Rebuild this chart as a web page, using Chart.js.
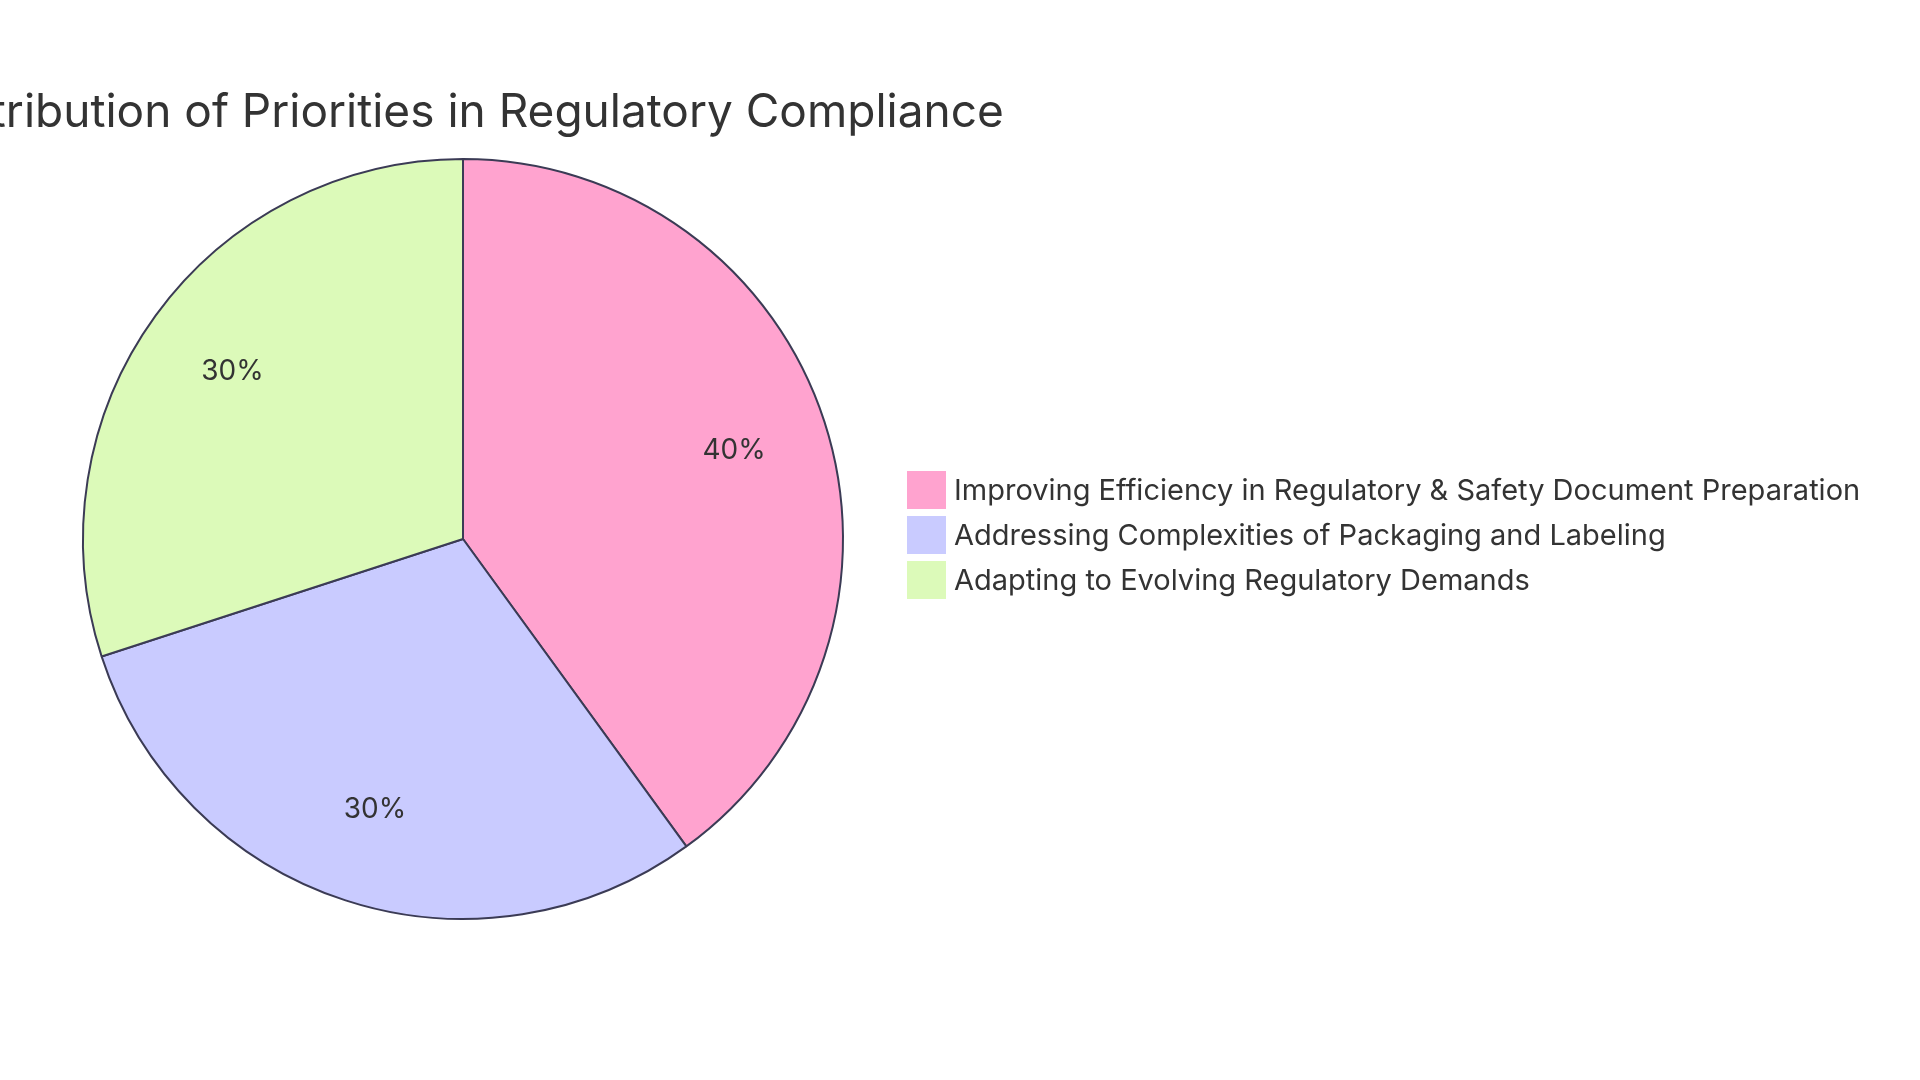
<!DOCTYPE html>
<html><head><meta charset="utf-8">
<script src="https://cdn.jsdelivr.net/npm/chart.js@4/dist/chart.umd.min.js"></script>
<style>html,body{margin:0;padding:0;background:#fff;}#wrap{width:1920px;height:1080px;}</style>
</head><body><div id="wrap"><canvas id="c" width="1920" height="1080"></canvas></div>
<script>
const titleText = "Distribution of Priorities in Regulatory Compliance";
const categories = [
  "Improving Efficiency in Regulatory & Safety Document Preparation",
  "Addressing Complexities of Packaging and Labeling",
  "Adapting to Evolving Regulatory Demands"
];
const values = [40, 30, 30];
const colors = ["#FFA3CF", "#C9CBFF", "#DCFAB9"];

const overlay = {
  id: 'overlay',
  afterDraw(chart) {
    const ctx = chart.ctx;
    ctx.save();
    ctx.fillStyle = '#333333';
    ctx.font = '46px Inter, "Open Sans", sans-serif';
    ctx.textAlign = 'center';
    ctx.textBaseline = 'alphabetic';
    ctx.fillText(titleText, 463, 127);
    // percentage labels
    const meta = chart.getDatasetMeta(0);
    const total = values.reduce((a, b) => a + b, 0);
    ctx.font = '28px Inter, "Open Sans", sans-serif';
    ctx.textBaseline = 'middle';
    meta.data.forEach((arc, i) => {
      const mid = (arc.startAngle + arc.endAngle) / 2;
      const r = arc.outerRadius * 0.75;
      ctx.fillText(Math.round(values[i] / total * 100) + '%', arc.x + Math.cos(mid) * r, arc.y + Math.sin(mid) * r);
    });
    // legend
    ctx.textAlign = 'left';
    ctx.font = '29px Inter, "Open Sans", sans-serif';
    categories.forEach((c, i) => {
      const y = 490 + i * 45;
      ctx.fillStyle = colors[i];
      ctx.fillRect(907, y - 19, 39, 38);
      ctx.fillStyle = '#333333';
      ctx.fillText(c, 954, y + 1);
    });
    ctx.restore();
  }
};

new Chart(document.getElementById('c'), {
  type: 'pie',
  data: { labels: categories, datasets: [{ data: values, backgroundColor: colors, borderColor: '#3B3B55', borderWidth: 2 }] },
  options: {
    responsive: false, animation: false,
    layout: { padding: { left: 82, top: 158, right: 1076, bottom: 160 } },
    plugins: { legend: { display: false }, tooltip: { enabled: false }, title: { display: false } }
  },
  plugins: [overlay]
});
</script></body></html>
